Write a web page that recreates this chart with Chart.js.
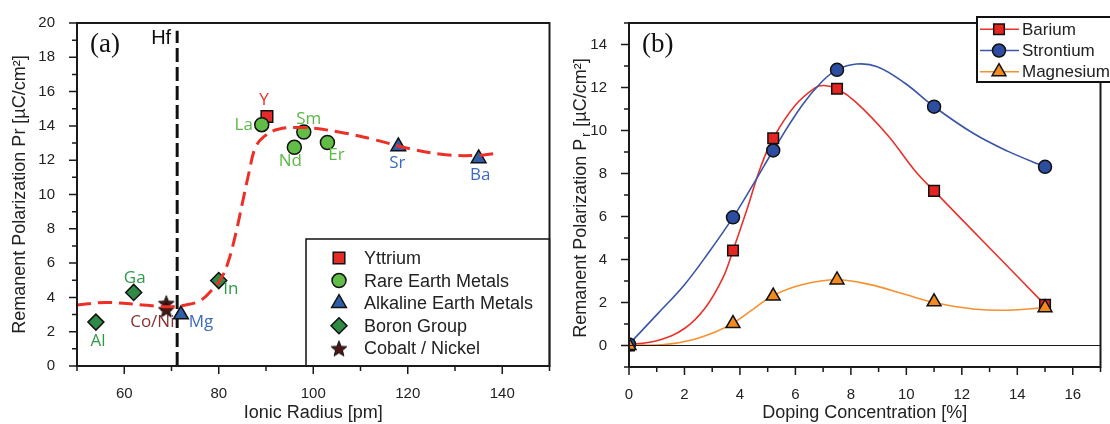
<!DOCTYPE html>
<html>
<head>
<meta charset="utf-8">
<script src="https://cdn.jsdelivr.net/npm/chart.js@4"></script>
<style>
  body { margin: 0; background: #fff; width: 1110px; height: 424px; overflow: hidden; position: relative; }
  #boxA { position: absolute; left: 0; top: 0; }
  #boxB { position: absolute; left: 560px; top: 0; }
</style>
</head>
<body>
<canvas id="boxA" width="560" height="424"></canvas>
<canvas id="boxB" width="550" height="424"></canvas>
<script>
/* (a) Pr vs ionic radius of the dopant */
const yttriumRadius = [90.2]
const yttriumPr = [14.55]
const yttriumNames = ['Y']
const rareEarthRadius = [89.1, 96.0, 98.0, 103.0]
const rareEarthPr = [14.07, 12.75, 13.64, 13.03]
const rareEarthNames = ['La', 'Nd', 'Sm', 'Er']
const alkalineRadius = [72.0, 118.0, 135.0]
const alkalinePr = [3.0, 12.8, 12.1]
const alkalineNames = ['Mg', 'Sr', 'Ba']
const boronRadius = [54.0, 62.0, 80.0]
const boronPr = [2.56, 4.29, 4.98]
const boronNames = ['Al', 'Ga', 'In']
const coNiRadius = [68.9, 68.9]
const coNiPr = [3.66, 3.3]
const coNiNames = ['', 'Co/Ni']
// guide curve (red dashed)
const guideRadius = [50, 56.3, 63.9, 69.2, 73, 76, 78.3, 80.5, 82, 83.5, 85, 86.5, 87.7, 89.5, 92.6, 97.8, 105.4, 112.9, 120.5, 128, 134.8, 138.6]
const guidePr = [3.56, 3.7, 3.56, 3.45, 3.56, 3.8, 4.36, 5.1, 6.07, 7.6, 9.5, 11.4, 12.7, 13.36, 13.8, 13.9, 13.65, 13.2, 12.66, 12.32, 12.28, 12.4]
// Hf reference line
const hfRadius = 71.2
const hfTop = 19.55
const xTicksA = [60, 80, 100, 120, 140]
const yTicksA = [0, 2, 4, 6, 8, 10, 12, 14, 16, 18, 20]

/* (b) Pr vs doping concentration */
const dopingPct = [0, 3.75, 5.2, 7.5, 11, 15]
const bariumPr = [0, 4.42, 9.64, 11.94, 7.19, 1.89]
const strontiumPr = [0.05, 5.96, 9.07, 12.82, 11.11, 8.31]
const magnesiumPr = [0, 1.02, 2.3, 3.05, 2.03, 1.76]
// the smoothed lines as drawn in the figure
const bariumCurveX = [0, 1.03, 2.0, 2.76, 3.38, 3.75, 4.25, 4.74, 5.2, 5.98, 6.72, 7.03, 7.5, 8.2, 9.32, 10.31, 11.0, 13.03, 15.0]
const bariumCurveY = [0.03, 0.23, 0.79, 1.77, 3.13, 4.42, 6.31, 8.28, 9.64, 11.15, 11.99, 12.09, 11.94, 11.3, 9.79, 8.13, 7.19, 4.5, 1.89]
const strontiumCurveX = [0, 1.03, 2.0, 2.88, 3.75, 4.49, 5.2, 6.23, 6.97, 7.5, 8.2, 8.95, 9.94, 11.0, 12.41, 13.65, 15.0]
const strontiumCurveY = [0.06, 1.47, 2.83, 4.34, 5.96, 7.52, 9.07, 11.15, 12.29, 12.82, 13.09, 12.97, 12.21, 11.11, 9.87, 9.04, 8.31]
const magnesiumCurveX = [0, 1.27, 2.26, 3.13, 3.75, 4.49, 5.2, 6.23, 7.5, 8.7, 9.94, 11.0, 12.41, 13.65, 15.0]
const magnesiumCurveY = [0.02, 0.04, 0.26, 0.64, 1.04, 1.7, 2.33, 2.83, 3.06, 2.83, 2.38, 2.0, 1.7, 1.64, 1.76]
const xTicksB = [0, 2, 4, 6, 8, 10, 12, 14, 16]
const yTicksB = [0, 2, 4, 6, 8, 10, 12, 14]

const SANS = '"Liberation Sans", Arial, sans-serif'
const TXT = '#222'

const labelStyle = {
  Y: { color: '#e8322b', dx: -3, dy: -16 },
  La: { color: '#5cb846', dx: -18, dy: 0 },
  Nd: { color: '#5cb846', dx: -4, dy: 14 },
  Sm: { color: '#5cb846', dx: 5, dy: -13 },
  Er: { color: '#5cb846', dx: 9, dy: 13 },
  Mg: { color: '#3d6bbd', dx: 20, dy: 8 },
  Sr: { color: '#3d6bbd', dx: -1, dy: 17 },
  Ba: { color: '#3d6bbd', dx: 1.5, dy: 17 },
  Al: { color: '#2e9a48', dx: 2, dy: 19 },
  Ga: { color: '#2e9a48', dx: 1, dy: -14 },
  In: { color: '#2e9a48', dx: 12, dy: 9 },
  'Co/Ni': { color: '#8b2f2f', dx: -14, dy: 13 }
}

const pts = (xs, ys) => xs.map((v, i) => ({ x: v, y: ys[i] }))

function makeStar() {
  const c = document.createElement('canvas')
  c.width = 18
  c.height = 18
  const g = c.getContext('2d')
  g.beginPath()
  for (let i = 0; i < 10; i++) {
    const r = i % 2 ? 3.6 : 8.3
    const a = -Math.PI / 2 + i * Math.PI / 5
    g.lineTo(9 + r * Math.cos(a), 9.8 + r * Math.sin(a))
  }
  g.closePath()
  g.fillStyle = '#4a1616'
  g.fill()
  g.strokeStyle = '#111'
  g.lineWidth = 1
  g.stroke()
  return c
}
const starImg = makeStar()

function drawMarker(ctx, style, r, x, y, fill) {
  if (style === starImg) {
    ctx.drawImage(starImg, x - 9, y - 9)
    return
  }
  ctx.beginPath()
  if (style === 'circle') ctx.arc(x, y, r, 0, Math.PI * 2)
  if (style === 'rect') { const s = r * Math.SQRT1_2; ctx.rect(x - s, y - s, 2 * s, 2 * s) }
  if (style === 'rectRot') { ctx.moveTo(x, y - r); ctx.lineTo(x + r, y); ctx.lineTo(x, y + r); ctx.lineTo(x - r, y); ctx.closePath() }
  if (style === 'triangle') {
    for (let k = 0; k < 3; k++) {
      const a = -Math.PI / 2 + k * 2 * Math.PI / 3
      ctx.lineTo(x + r * Math.cos(a), y + r * Math.sin(a))
    }
    ctx.closePath()
  }
  ctx.fillStyle = fill
  ctx.fill()
  ctx.strokeStyle = '#111'
  ctx.lineWidth = 1.5
  ctx.stroke()
}

// frame + major/minor ticks
const axisFrame = {
  id: 'axisFrame',
  afterDraw(chart, args, opts) {
    const { ctx, chartArea: a, scales: { x, y } } = chart
    ctx.save()
    ctx.strokeStyle = '#1a1a1a'
    ctx.lineWidth = 1.5
    ctx.beginPath()
    for (let v = x.min; v <= x.max + 1e-9; v += opts.xStep) {
      const px = x.getPixelForValue(v)
      const len = Math.abs(v % opts.xMajor) < 1e-9 ? 8 : 5
      ctx.moveTo(px, a.bottom)
      ctx.lineTo(px, a.bottom + len)
    }
    for (let v = y.min; v <= y.max + 1e-9; v += opts.yStep) {
      const py = y.getPixelForValue(v)
      const len = Math.abs(v % opts.yMajor) < 1e-9 ? 8 : 5
      ctx.moveTo(a.left, py)
      ctx.lineTo(a.left - len, py)
    }
    ctx.stroke()
    if (opts.zeroLine) {
      const py = y.getPixelForValue(0)
      ctx.lineWidth = 1.2
      ctx.beginPath()
      ctx.moveTo(a.left, py)
      ctx.lineTo(a.right, py)
      ctx.stroke()
    }
    ctx.lineWidth = 2
    ctx.strokeRect(a.left, a.top, a.right - a.left, a.bottom - a.top)
    ctx.fillStyle = '#111'
    ctx.font = '27px "Liberation Serif", serif'
    ctx.textBaseline = 'alphabetic'
    ctx.fillText(opts.panel, a.left + 13, 52)
    ctx.restore()
  }
}

// element names next to the points, Hf label, legend of (a)
const panelADecor = {
  id: 'panelADecor',
  afterDatasetsDraw(chart) {
    const { ctx, chartArea: a, scales: { x, y } } = chart
    ctx.save()
    ctx.font = '17px "Open Sans", sans-serif'
    ctx.textAlign = 'center'
    ctx.textBaseline = 'middle'
    chart.data.datasets.forEach((ds, i) => {
      if (!ds.names) return
      chart.getDatasetMeta(i).data.forEach((pt, j) => {
        const name = ds.names[j]
        if (!name) return
        const s = labelStyle[name]
        ctx.fillStyle = s.color
        ctx.fillText(name, pt.x + s.dx, pt.y + s.dy)
      })
    })
    ctx.fillStyle = '#111'
    ctx.font = '20px ' + SANS
    ctx.textAlign = 'right'
    ctx.fillText('Hf', x.getPixelForValue(hfRadius) - 6, y.getPixelForValue(hfTop) + 8)

    // legend box
    const lx = 306, ly = 239
    ctx.fillStyle = '#fff'
    ctx.fillRect(lx, ly, a.right - lx, a.bottom - ly)
    ctx.strokeStyle = '#111'
    ctx.lineWidth = 1.5
    ctx.strokeRect(lx, ly, a.right - lx, a.bottom - ly)
    ctx.textAlign = 'left'
    ctx.font = '18px ' + SANS
    chart.data.datasets.filter(d => d.inLegend).reverse().forEach((d, k) => {
      const ry = 258 + k * 22.6
      drawMarker(ctx, d.pointStyle, d.pointRadius, 339, ry, d.backgroundColor)
      ctx.fillStyle = TXT
      ctx.fillText(d.label, 364, ry + 1)
    })
    ctx.restore()
  }
}

const markerSet = (fill, style, r) => ({
  backgroundColor: fill, borderColor: '#111', borderWidth: 1.5,
  pointStyle: style, pointRadius: r, pointHoverRadius: r, showLine: false
})

new Chart(document.getElementById('boxA'), {
  type: 'scatter',
  data: {
    datasets: [
      { label: 'guide', data: pts(guideRadius, guidePr), showLine: true, tension: 0.4,
        borderColor: '#ec3028', borderWidth: 3, borderDash: [14, 7], pointRadius: 0, order: 0 },
      { label: 'Cobalt / Nickel', data: pts(coNiRadius, coNiPr), names: coNiNames, inLegend: true,
        ...markerSet('#4a1616', starImg, 9), order: 1 },
      { label: 'Boron Group', data: pts(boronRadius, boronPr), names: boronNames, inLegend: true,
        ...markerSet('#2f8a45', 'rectRot', 8), order: 2 },
      { label: 'Alkaline Earth Metals', data: pts(alkalineRadius, alkalinePr), names: alkalineNames, inLegend: true,
        ...markerSet('#2f5ea9', 'triangle', 8.5), order: 3 },
      { label: 'Rare Earth Metals', data: pts(rareEarthRadius, rareEarthPr), names: rareEarthNames, inLegend: true,
        ...markerSet('#62bd47', 'circle', 7), order: 4 },
      { label: 'Yttrium', data: pts(yttriumRadius, yttriumPr), names: yttriumNames, inLegend: true,
        ...markerSet('#e52a27', 'rect', 8.2), order: 5 },
      { label: 'Hf', data: [{ x: hfRadius, y: 0 }, { x: hfRadius, y: hfTop }], showLine: true,
        borderColor: '#111', borderWidth: 3, borderDash: [14, 5], pointRadius: 0, order: 9 }
    ]
  },
  options: {
    responsive: false,
    animation: false,
    devicePixelRatio: 1,
    layout: { padding: { top: 15, right: 7, left: 0, bottom: 0 } },
    plugins: {
      legend: { display: false },
      tooltip: { enabled: false },
      axisFrame: { xStep: 10, xMajor: 20, yStep: 1, yMajor: 2, panel: '(a)' }
    },
    scales: {
      x: {
        type: 'linear', min: 50, max: 150,
        grid: { display: false }, border: { display: false },
        afterBuildTicks: s => { s.ticks = xTicksA.map(v => ({ value: v })) },
        afterFit: s => { s.height = 58 },
        ticks: { padding: 11, color: TXT, font: { family: SANS, size: 15 } },
        title: { display: true, text: 'Ionic Radius [pm]', color: TXT,
          font: { family: SANS, size: 18 }, padding: { top: 0, bottom: 0 } }
      },
      y: {
        min: 0, max: 20,
        grid: { display: false }, border: { display: false },
        afterBuildTicks: s => { s.ticks = yTicksA.map(v => ({ value: v })) },
        afterFit: s => { s.width = 77 },
        ticks: { padding: 14, color: TXT, font: { family: SANS, size: 15 } },
        title: { display: true, text: 'Remanent Polarization Pr [µC/cm²]', color: TXT,
          font: { family: SANS, size: 18 }, padding: { top: 9, bottom: 0 } }
      }
    }
  },
  plugins: [axisFrame, panelADecor]
})

// y title with subscript r and the legend of (b)
const panelBDecor = {
  id: 'panelBDecor',
  afterDraw(chart) {
    const { ctx, chartArea: a } = chart
    ctx.save()
    ctx.translate(21, (a.top + a.bottom) / 2 + 3)
    ctx.rotate(-Math.PI / 2)
    ctx.fillStyle = TXT
    ctx.textBaseline = 'middle'
    const big = '18px ' + SANS, small = '12px ' + SANS
    const parts = [['Remanent Polarization P', big, 0], ['r', small, 6], [' [µC/cm²]', big, 0]]
    let total = 0
    parts.forEach(p => { ctx.font = p[1]; p.push(ctx.measureText(p[0]).width); total += p[3] + (p[2] ? 3 : 0) })
    let tx = -total / 2
    parts.forEach(p => {
      ctx.font = p[1]
      if (p[2]) tx += 2
      ctx.fillText(p[0], tx, p[2])
      tx += p[3] + (p[2] ? 1 : 0)
    })
    ctx.restore()

    ctx.save()
    const lx = 417, ly = 17
    ctx.fillStyle = '#fff'
    ctx.fillRect(lx, ly, 140, 65)
    ctx.strokeStyle = '#111'
    ctx.lineWidth = 2
    ctx.strokeRect(lx, ly, 140, 65)
    ctx.font = '17px ' + SANS
    ctx.textBaseline = 'middle'
    chart.data.datasets.filter(d => d.inLegend).forEach((d, k) => {
      const ry = 29.3 + k * 21.2
      ctx.strokeStyle = d.lineColor
      ctx.lineWidth = 1.5
      ctx.beginPath()
      ctx.moveTo(lx + 3, ry)
      ctx.lineTo(lx + 42, ry)
      ctx.stroke()
      drawMarker(ctx, d.pointStyle, d.pointRadius, lx + 22, ry, d.pointBackgroundColor)
      ctx.fillStyle = TXT
      ctx.fillText(d.label, lx + 45, ry + 1)
    })
    ctx.restore()
  }
}

const markerSetB = (label, ys, line, fill, style, r, order) => ({
  label, data: pts(dopingPct, ys), showLine: false, inLegend: true, lineColor: line,
  pointBackgroundColor: fill, pointBorderColor: '#111', pointBorderWidth: 1.5,
  pointStyle: style, pointRadius: r, pointHoverRadius: r, order
})
const curveSetB = (label, xs, ys, line, order) => ({
  label, data: pts(xs, ys), showLine: true, tension: 0.4,
  borderColor: line, borderWidth: 1.6, pointRadius: 0, order
})

new Chart(document.getElementById('boxB'), {
  type: 'scatter',
  data: {
    datasets: [
      markerSetB('Barium', bariumPr, '#e8322b', '#e52521', 'rect', 7.5, 2),
      markerSetB('Strontium', strontiumPr, '#3b56a8', '#2d4da0', 'circle', 6.5, 1),
      markerSetB('Magnesium', magnesiumPr, '#f5912f', '#f28a1d', 'triangle', 8, 0),
      curveSetB('Barium line', bariumCurveX, bariumCurveY, '#e8322b', 5),
      curveSetB('Strontium line', strontiumCurveX, strontiumCurveY, '#3b56a8', 4),
      curveSetB('Magnesium line', magnesiumCurveX, magnesiumCurveY, '#f5912f', 3)
    ]
  },
  options: {
    responsive: false,
    animation: false,
    devicePixelRatio: 1,
    layout: { padding: { top: 15, right: 1, left: 0, bottom: 0 } },
    plugins: {
      legend: { display: false },
      tooltip: { enabled: false },
      axisFrame: { xStep: 1, xMajor: 2, yStep: 1, yMajor: 2, zeroLine: true, panel: '(b)' }
    },
    scales: {
      x: {
        type: 'linear', min: 0, max: 17,
        grid: { display: false }, border: { display: false },
        afterBuildTicks: s => { s.ticks = xTicksB.map(v => ({ value: v })) },
        afterFit: s => { s.height = 57 },
        ticks: { padding: 11, color: TXT, font: { family: SANS, size: 15 } },
        title: { display: true, text: 'Doping Concentration [%]', color: TXT,
          font: { family: SANS, size: 18 }, padding: { top: 0, bottom: 0 } }
      },
      y: {
        min: -1, max: 15,
        grid: { display: false }, border: { display: false },
        afterBuildTicks: s => { s.ticks = yTicksB.map(v => ({ value: v })) },
        afterFit: s => { s.width = 69 },
        ticks: { padding: 14, color: TXT, font: { family: SANS, size: 15 } },
        title: { display: false }
      }
    }
  },
  plugins: [axisFrame, panelBDecor]
})
</script>
</body>
</html>
